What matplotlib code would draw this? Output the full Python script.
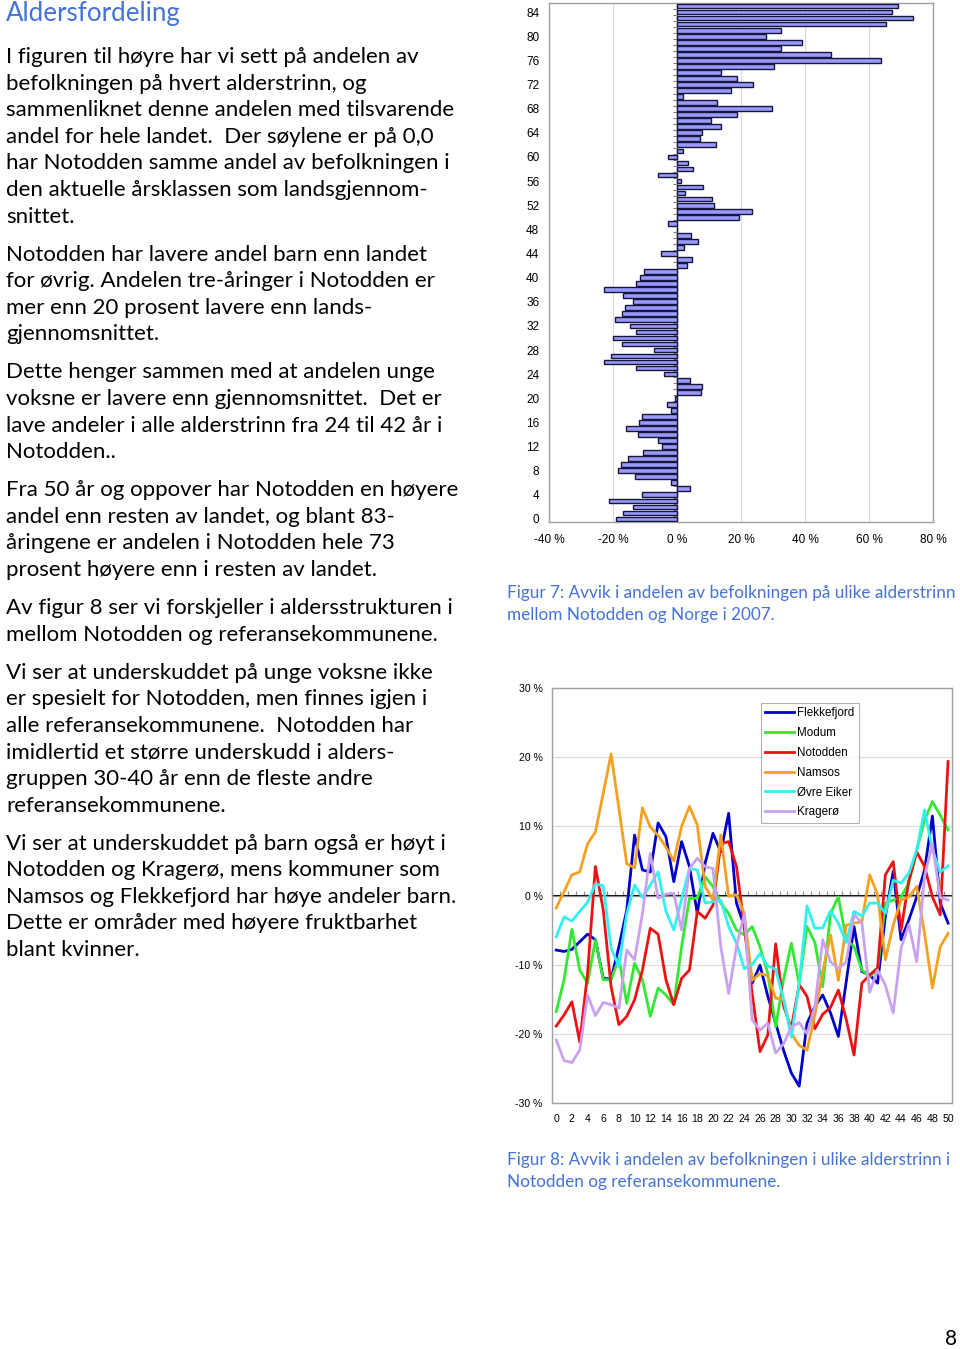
import matplotlib
matplotlib.use('Agg')
import matplotlib.pyplot as plt
import numpy as np

# ---------------- data ----------------
bar_ages = list(range(86))
bar_values = [
    -19.1, -16.9, -13.75, -21.25, -10.9, 4.2, -2.0, -13.2, -18.5, -17.6,
    -15.2, -10.6, -4.7, -5.9, -12.2, -15.9, -12.0, -10.9, -1.9, -3.2,
    -0.6, 7.6, 7.8, 4.2, -4.1, -12.8, -22.7, -20.5, -7.1, -17.2,
    -19.9, -12.8, -14.6, -19.4, -17.2, -16.1, -13.75, -16.9, -22.9, -12.8,
    -11.7, -10.4, 3.0, 4.8, -5.0, 2.2, 6.6, 4.5, 0.0, -2.7,
    19.5, 23.4, 11.5, 11.0, 2.4, 8.1, 1.35, -5.9, 5.1, 3.3,
    -2.7, 1.9, 12.1, 7.2, 7.8, 13.75, 10.5, 18.9, 29.7, 12.6,
    1.9, 16.8, 23.75, 18.6, 13.75, 30.2, 63.75, 48.2, 32.4, 39.0,
    27.8, 32.4, 65.3, 73.75, 67.3, 69.1]
bar_xticks = [-40, -20, 0, 20, 40, 60, 80]
bar_yticks = list(range(0, 85, 4))

line_ages = list(range(51))
flekkefjord = [
    -7.9, -8.1, -7.8, -6.7, -5.6, -6.4, -12.0, -12.1, -7.4, -2.1,
    8.75, 3.7, 3.4, 10.5, 8.5, 2.0, 7.8, 4.2, -2.6, 4.7,
    9.0, 6.3, 11.9, -1.1, -4.5, -12.7, -10.1, -14.6, -18.5, -22.4,
    -25.7, -27.6, -18.5, -16.1, -14.4, -17.0, -20.4, -12.5, -4.5, -11.0,
    -11.5, -12.7, -3.0, 3.5, -6.4, -3.5, -0.2, 3.7, 11.5, -1.1, -4.0]
modum = [
    -16.8, -12.2, -4.9, -10.8, -12.7, -6.4, -12.2, -12.2, -9.1, -15.6,
    -9.8, -12.2, -17.5, -13.4, -14.4, -15.8, -7.4, -0.4, -0.4, 2.7,
    1.3, -1.1, -2.6, -5.0, -5.7, -4.5, -7.4, -11.3, -19.0, -12.2,
    -6.9, -12.8, -4.5, -6.8, -13.2, -2.6, -0.2, -6.4, -7.4, -10.8,
    -11.7, -10.8, -1.1, -0.65, -0.2, 1.8, 6.6, 10.9, 13.6, 11.6, 9.5]
notodden = [
    -18.9, -17.3, -15.4, -21.2, -11.3, 4.2, -2.1, -13.2, -18.7, -17.5,
    -15.1, -10.8, -4.75, -5.6, -12.2, -15.8, -12.0, -10.8, -2.3, -3.3,
    -1.4, 7.5, 7.8, 4.2, -4.5, -14.2, -22.6, -20.2, -7.0, -16.0,
    -19.2, -12.9, -14.6, -19.3, -17.2, -16.2, -13.7, -17.9, -23.1, -12.7,
    -11.5, -10.5, 3.0, 4.9, -5.0, 2.2, 6.3, 4.2, -0.2, -2.8, 19.4]
namsos = [
    -1.8, 0.55, 3.0, 3.4, 7.5, 9.2, 14.8, 20.5, 12.6, 4.6,
    4.0, 12.7, 9.9, 8.7, 7.0, 5.0, 10.0, 12.9, 10.2, 1.3,
    -0.65, 8.75, -0.1, 0.1, -2.6, -12.3, -11.3, -11.6, -14.9, -14.9,
    -20.0, -21.7, -22.4, -17.3, -11.0, -5.7, -12.3, -4.3, -4.0, -3.8,
    3.0, 0.1, -9.3, -4.3, -0.65, -0.2, 1.3, -5.5, -13.4, -7.4, -5.5]
ovre_eiker = [
    -6.0, -3.1, -3.7, -2.3, -1.0, 1.7, 1.4, -7.6, -10.3, -2.6,
    1.5, -0.3, 1.5, 3.4, -2.3, -5.0, -0.5, 3.9, 3.7, -1.1,
    -0.9, -0.65, -4.5, -6.9, -10.6, -10.0, -8.4, -10.2, -10.7, -15.0,
    -20.5, -12.8, -1.5, -4.75, -4.7, -2.2, -4.0, -6.8, -2.3, -3.0,
    -1.1, -1.1, -2.6, 2.2, 1.8, 3.2, 6.6, 12.4, 6.6, 3.4, 4.3]
kragero = [
    -20.9, -23.9, -24.2, -22.4, -14.4, -17.4, -15.5, -15.8, -16.3, -7.9,
    -9.3, -2.6, 6.1, -0.4, 0.2, 0.3, -5.0, 3.9, 5.4, 4.2,
    3.9, -7.4, -14.2, -7.4, -2.6, -18.0, -19.5, -18.5, -22.8, -21.5,
    -19.0, -18.4, -20.0, -16.1, -6.4, -9.6, -10.6, -9.6, -2.8, -3.9,
    -14.0, -10.8, -13.0, -17.0, -7.6, -4.2, -9.6, 2.8, 7.5, -0.3, -0.65]
series_names = ['Flekkefjord', 'Modum', 'Notodden', 'Namsos', 'Øvre Eiker', 'Kragerø']
series_colors = ['#0000CC', '#33E833', '#EE1111', '#F4A020', '#33F0F0', '#C8A2F0']
line_xticks = list(range(0, 51, 2))
line_yticks = [-30, -20, -10, 0, 10, 20, 30]

title = 'Aldersfordeling'
paragraphs = [
    ["I figuren til høyre har vi sett på andelen av",
     "befolkningen på hvert alderstrinn, og",
     "sammenliknet denne andelen med tilsvarende",
     "andel for hele landet.  Der søylene er på 0,0",
     "har Notodden samme andel av befolkningen i",
     "den aktuelle årsklassen som landsgjennom-",
     "snittet."],
    ["Notodden har lavere andel barn enn landet",
     "for øvrig. Andelen tre-åringer i Notodden er",
     "mer enn 20 prosent lavere enn lands-",
     "gjennomsnittet."],
    ["Dette henger sammen med at andelen unge",
     "voksne er lavere enn gjennomsnittet.  Det er",
     "lave andeler i alle alderstrinn fra 24 til 42 år i",
     "Notodden.."],
    ["Fra 50 år og oppover har Notodden en høyere",
     "andel enn resten av landet, og blant 83-",
     "åringene er andelen i Notodden hele 73",
     "prosent høyere enn i resten av landet."],
    ["Av figur 8 ser vi forskjeller i aldersstrukturen i",
     "mellom Notodden og referansekommunene."],
    ["Vi ser at underskuddet på unge voksne ikke",
     "er spesielt for Notodden, men finnes igjen i",
     "alle referansekommunene.  Notodden har",
     "imidlertid et større underskudd i alders-",
     "gruppen 30-40 år enn de fleste andre",
     "referansekommunene."],
    ["Vi ser at underskuddet på barn også er høyt i",
     "Notodden og Kragerø, mens kommuner som",
     "Namsos og Flekkefjord har høye andeler barn.",
     "Dette er områder med høyere fruktbarhet",
     "blant kvinner."],
]
caption7 = ["Figur 7: Avvik i andelen av befolkningen på ulike alderstrinn",
            "mellom Notodden og Norge i 2007."]
caption8 = ["Figur 8: Avvik i andelen av befolkningen i ulike alderstrinn i",
            "Notodden og referansekommunene."]
page_no = '8'

# ---------------- figure ----------------
W, H = 960, 1349
fig = plt.figure(figsize=(W / 100, H / 100), dpi=100)
fig.patch.set_facecolor('white')

def fx(x):
    return x / W

def fy(y):
    return 1 - y / H

BLUE_TXT = '#4472D6'
CHART_FONT = ['Liberation Sans', 'DejaVu Sans']
BODY_FONT = ['Lato', 'DejaVu Sans']
GRID = '#DADADA'
BORDER = '#A0A0A0'

# title and body text
fig.text(fx(6), fy(21), title, fontsize=18.6, color=BLUE_TXT, family=BODY_FONT,
         va='baseline', ha='left')
y = 63.0
for p in paragraphs:
    for line in p:
        fig.text(fx(6), fy(y), line, fontsize=16.0, color='black', family=BODY_FONT,
                 va='baseline', ha='left')
        y += 26.6
    y += 11.4

# ---------------- bar chart ----------------
ax1 = fig.add_axes([fx(549), fy(522), (933 - 549) / W, (522 - 3) / H])
ax1.barh(bar_ages, bar_values, height=0.78, color='#9999FF', edgecolor='#16163A',
         linewidth=1.0, zorder=3)
ax1.set_xlim(-40, 80)
ax1.set_ylim(-0.5, 85.5)
ax1.set_xticks(bar_xticks)
ax1.set_xticklabels([f'{v} %' for v in bar_xticks])
ax1.set_yticks(bar_yticks)
ax1.set_yticklabels([str(v) for v in bar_yticks])
ax1.tick_params(axis='both', length=0, labelsize=8.5)
ax1.tick_params(axis='x', pad=9)
ax1.tick_params(axis='y', pad=7)
for lab in ax1.get_xticklabels() + ax1.get_yticklabels():
    lab.set_family(CHART_FONT)
ax1.xaxis.grid(True, color=GRID, lw=0.8, zorder=0)
ax1.set_axisbelow(True)
for s in ax1.spines.values():
    s.set_color(BORDER)
    s.set_linewidth(1.0)
ax1.axvline(0, color='#808080', lw=1.0, zorder=2)
sec1 = ax1.secondary_yaxis(40 / 120)
sec1.set_yticks(np.arange(-0.5, 86, 1))
sec1.set_yticklabels([])
sec1.tick_params(length=3, color='#808080', width=0.8)
sec1.spines['left'].set_visible(False)

# ---------------- line chart ----------------
ax2 = fig.add_axes([fx(552.3), fy(1102.7), (952 - 552.3) / W, (1102.7 - 688.3) / H])
all_series = [flekkefjord, modum, notodden, namsos, ovre_eiker, kragero]
for name, vals, col in zip(series_names, all_series, series_colors):
    ax2.plot(line_ages, vals, color=col, lw=2.0, label=name, zorder=3)
ax2.set_xlim(-0.5, 50.5)
ax2.set_ylim(-30, 30)
ax2.set_xticks(line_xticks)
ax2.set_xticklabels([str(v) for v in line_xticks])
ax2.set_yticks(line_yticks)
ax2.set_yticklabels([f'{v} %' for v in line_yticks])
ax2.tick_params(axis='both', length=0, labelsize=7.6)
ax2.tick_params(axis='x', pad=8)
ax2.tick_params(axis='y', pad=7)
for lab in ax2.get_xticklabels() + ax2.get_yticklabels():
    lab.set_family(CHART_FONT)
ax2.yaxis.grid(True, color=GRID, lw=0.8, zorder=0)
ax2.set_axisbelow(True)
for s in ax2.spines.values():
    s.set_color(BORDER)
    s.set_linewidth(1.0)
ax2.axhline(0, color='#909090', lw=0.9, zorder=2)
sec2 = ax2.secondary_xaxis(0.5)
sec2.set_xticks(np.arange(-0.5, 51, 1))
sec2.set_xticklabels([])
sec2.tick_params(length=3, color='#909090', width=0.8)
sec2.spines['bottom'].set_visible(False)

leg = ax2.legend(loc='upper left', bbox_to_anchor=(fx(760.7), fy(702.7)),
                 bbox_transform=fig.transFigure, borderaxespad=0, frameon=True,
                 fancybox=False, edgecolor=BORDER, handlelength=2.5,
                 handletextpad=0.3, labelspacing=0.68, borderpad=0.35,
                 prop={'family': CHART_FONT, 'size': 8.4})
leg.get_frame().set_linewidth(0.8)
for lh in leg.get_lines():
    lh.set_linewidth(2.0)

# captions
for i, line in enumerate(caption7):
    fig.text(fx(507), fy(598 + 22 * i), line, fontsize=12.3, color=BLUE_TXT,
             family=BODY_FONT, va='baseline', ha='left')
for i, line in enumerate(caption8):
    fig.text(fx(507), fy(1165 + 22 * i), line, fontsize=12.3, color=BLUE_TXT,
             family=BODY_FONT, va='baseline', ha='left')

fig.text(fx(957), fy(1345), page_no, fontsize=15, color='black', family=BODY_FONT,
         va='baseline', ha='right')

fig.savefig('out.png', dpi=100, facecolor='white')
